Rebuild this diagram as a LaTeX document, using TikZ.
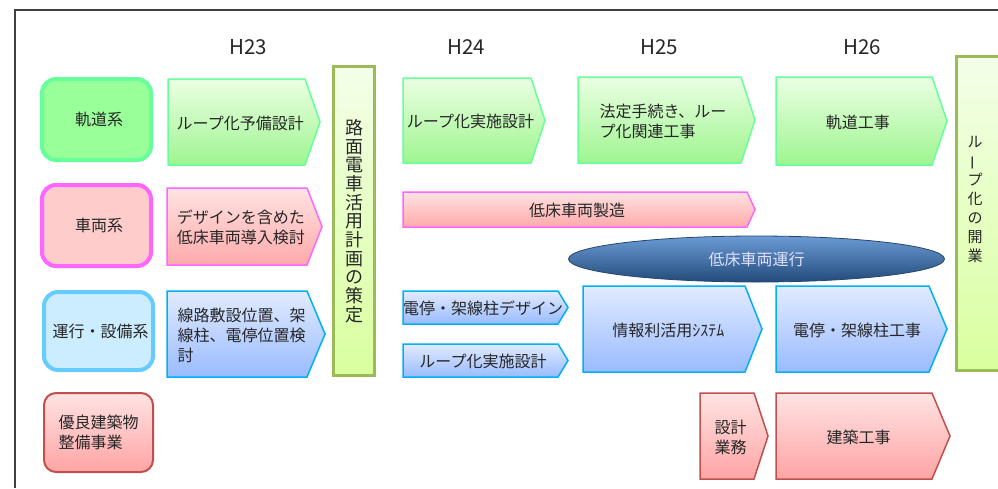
\documentclass[tikz,border=0pt]{standalone}
\usepackage{fontspec}
\setmainfont{Noto Sans CJK JP}
\usetikzlibrary{shapes.geometric}

\definecolor{txtC}{HTML}{262626}
\definecolor{frmC}{HTML}{404040}
\definecolor{grnT}{HTML}{EBFFE3}
\definecolor{grnD}{HTML}{9EF590}
\definecolor{grnB}{HTML}{66FF99}
\definecolor{pnkT}{HTML}{FFE3E3}
\definecolor{pnkD}{HTML}{FFA9A9}
\definecolor{pnkB}{HTML}{FF66FF}
\definecolor{bluT}{HTML}{E1EBFF}
\definecolor{bluD}{HTML}{99BBFF}
\definecolor{bluB}{HTML}{00B0F0}
\definecolor{redT}{HTML}{FFE3E3}
\definecolor{redD}{HTML}{FFA4A4}
\definecolor{redB}{HTML}{C0504D}
\definecolor{olvT}{HTML}{F3FFE8}
\definecolor{olvD}{HTML}{D9FF9E}
\definecolor{olvB}{HTML}{9BBB59}
\definecolor{elpT}{HTML}{6B9BD5}
\definecolor{elpD}{HTML}{234B7A}
\definecolor{elpB}{HTML}{24466F}
\definecolor{unkF}{HTML}{CCECFF}
\definecolor{unkB}{HTML}{66CCFF}

\begin{document}
\begin{tikzpicture}[x=1pt,y=-1pt,
    font=\fontsize{16}{20}\selectfont,text=txtC,
    grnarr/.style={draw=grnB,line width=1.5pt,top color=grnT,bottom color=grnD},
    pnkarr/.style={draw=pnkB,line width=1.5pt,top color=pnkT,bottom color=pnkD},
    bluarr/.style={draw=bluB,line width=1.5pt,top color=bluT,bottom color=bluD},
    redarr/.style={draw=redB,line width=1.5pt,top color=redT,bottom color=redD},
    catbox/.style={rounded corners=14pt,line width=4pt,minimum width=109pt,inner sep=0pt},
    planbox/.style={draw=olvB,line width=3pt,top color=olvT,bottom color=olvD},
    lbl/.style={align=left,inner sep=0pt},
    year/.style={font=\fontsize{20.5}{24}\selectfont}]
                \useasboundingbox (0,0) rectangle (998,488);

                % 枠
                \draw[line width=1.5pt,frmC] (15,488) -- (15,10) -- (998,10);

                % 年度
                \foreach \nm/\xc in {h23/248, h24/466, h25/659, h26/862}
                    \node[year] (\nm) at (\xc,47) {\MakeUppercase{\nm}};

                % 分類
                \node[catbox,draw=grnB,fill=green!40,minimum height=81pt] (kido) at (96.5,119.5) {\hspace{5pt}軌道系};
                \node[catbox,draw=pnkB,fill=red!20,minimum height=81pt] (sharyo) at (96.5,225.5) {\hspace{5pt}車両系};
                \node[catbox,draw=unkB,fill=unkF,minimum height=78pt] (unko) at (98.5,331) {\hspace{4pt}運行・設備系};
                \node[catbox,line width=2pt,draw=redB,top color=redT,bottom color=redD,minimum height=79pt,
                      rounded corners=12pt,align=left] (yuryo) at (98.5,432.5) {優良建築物\\整備事業};

                % 矢印
                \foreach \nm/\sty/\xl/\yt/\xr/\yb/\tip/\txt in {
                    yobi/grnarr/168/79/320/165/15/{ループ化予備設計},
                    donyu/pnkarr/167/188/322/265/15/{デザインを含めた\\低床車両導入検討},
                    senro/bluarr/167/291/325/377/18/{線路敷設位置、架\\線柱、電停位置検\\討},
                    jisshi/grnarr/403/78/545/163/14/{ループ化実施設計},
                    hotei/grnarr/578/77/755/163/14/{法定手続き、ルー\\プ化関連工事},
                    kidokoji/grnarr/776/77/947/165/15/{軌道工事},
                    seizo/pnkarr/403/192/755/227/8/{低床車両製造},
                    dezain/bluarr/403/291/568/324/10/{電停・架線柱デザイン},
                    jisshib/bluarr/403/344/568/377/10/{ループ化実施設計},
                    joho/bluarr/583/286/762/372/17/{情報利活用ｼｽﾃﾑ},
                    denteikoji/bluarr/776/286/947/372/18/{電停・架線柱工事},
                    sekkei/redarr/700/393/768/479/14/{設計\\業務},
                    kenchiku/redarr/776/393/950/479/18/{建築工事}}{
                    \draw[\sty] (\xl,\yt) -- (\xr-\tip,\yt) -- (\xr,{(\yt+\yb)/2}) -- (\xr-\tip,\yb) -- (\xl,\yb) -- cycle;
                    \node[lbl] (\nm) at ({(\xl+\xr-\tip/2)/2},{(\yt+\yb)/2+1}) {\txt};
                }

                % 運行
                \node[ellipse,minimum width=376pt,minimum height=46pt,inner sep=0pt,draw=elpB,line width=0.8pt,
                      top color=elpT,bottom color=elpD,text=white!88!blue] (unten) at (756.5,259) {低床車両運行};

                % 計画・開業
                \node[planbox,minimum width=41pt,minimum height=309pt,align=center,
                      font=\fontsize{18}{18.7}\selectfont] (keikaku) at (354,221)
                    {路\\面\\電\\車\\活\\用\\計\\画\\の\\策\\定};
                \draw[planbox] (956.5,56.5) rectangle (1020,370.5);
                \node[align=center,font=\fontsize{15}{19}\selectfont] (kaigyo) at (975,199)
                    {ル\\\rotatebox[origin=c]{90}{ー}\\プ\\化\\の\\開\\業};
            \end{tikzpicture}
\end{document}
